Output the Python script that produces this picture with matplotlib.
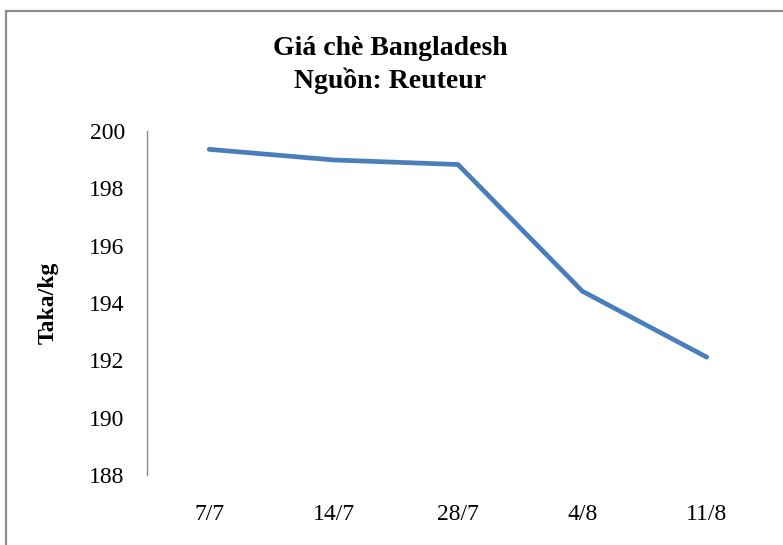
import matplotlib.pyplot as plt
from matplotlib.patches import Rectangle

# Giá chè Bangladesh (Taka/kg)
dates = ['7/7', '14/7', '28/7', '4/8', '11/8']
prices = [199.36, 198.99, 198.83, 194.41, 192.11]
y_ticks = [188, 190, 192, 194, 196, 198, 200]

plt.rcParams['font.family'] = ['Liberation Serif', 'DejaVu Serif']

W, H = 783, 545
fig = plt.figure(figsize=(W / 100, H / 100), dpi=100)

# outer chart frame (runs off the right and bottom edges like the reference)
fig.patches.append(Rectangle((5.5 / W, -0.1), 1.2, (H - 11) / H + 0.1,
                             transform=fig.transFigure, fill=False,
                             edgecolor='#8c8c8c', linewidth=1.6))

ax = fig.add_axes([147 / W, 70 / H, 622 / W, 344 / H])
x = range(len(dates))
ax.plot(x, prices, color='#4a7ebb', linewidth=3.4, solid_capstyle='round',
        solid_joinstyle='round')

ax.set_xlim(-0.5, len(dates) - 0.5)
ax.set_ylim(188, 200)
ax.set_xticks(list(x))
ax.set_xticklabels(dates, fontsize=17)
ax.set_yticks(y_ticks)
ax.set_yticklabels([str(v) for v in y_ticks], fontsize=17)
ax.tick_params(axis='x', length=0, pad=21)
ax.tick_params(axis='y', length=0, pad=16)

for s in ['top', 'right', 'bottom']:
    ax.spines[s].set_visible(False)
ax.spines['left'].set_color('#8c8c8c')
ax.spines['left'].set_linewidth(1.0)

ax.set_ylabel('Taka/kg', fontsize=17, fontweight='bold', labelpad=22)

fig.text(390 / W, 1 - 65 / H, 'Giá chè Bangladesh\nNguồn: Reuteur',
         ha='center', va='center', fontsize=20, fontweight='bold',
         linespacing=1.35)

fig.savefig('out.png', dpi=100)
